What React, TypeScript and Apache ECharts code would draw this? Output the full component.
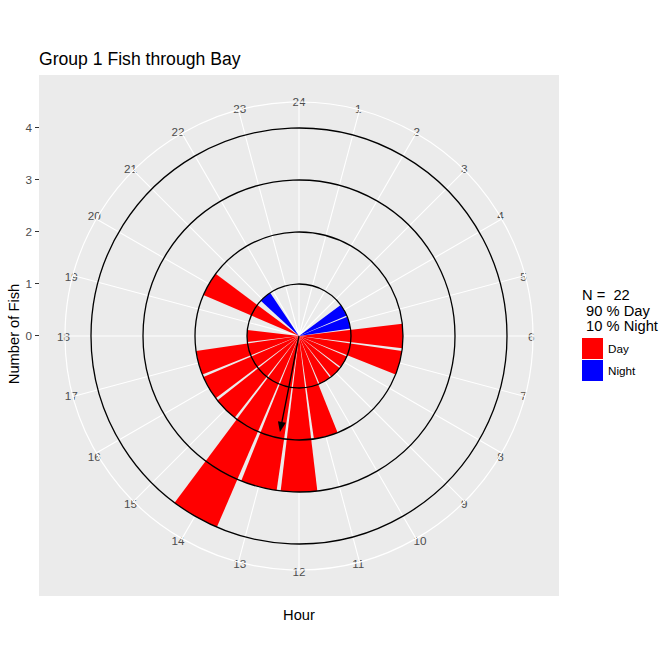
import React, { useEffect, useRef } from "react";
import * as echarts from "echarts";

// ---- data ----
const hourLabels = ["24", "1", "2", "3", "4", "5", "6", "7", "8", "9", "10", "11", "12", "13", "14", "15", "16", "17", "18", "19", "20", "21", "22", "23"];
const dayHours = [6, 7, 8, 9, 10, 11, 12, 13, 14, 15, 16, 17, 18, 20];
const dayCounts = [2, 2, 1, 1, 1, 2, 3, 3, 4, 2, 2, 2, 1, 2];
const nightHours = [4, 5, 21.3];
const nightCounts = [1, 1, 1];
const yTicks = [0, 1, 2, 3, 4];
const meanHour = [12.75];
const meanLength = [1.88];
const nFish = 22;
const pctDay = 90;
const pctNight = 10;
const seriesNames = ["Day", "Night"];

// ---- styles ----
const FONT = "'Liberation Sans', Arial, sans-serif";
const RED = "#FF0000";
const BLUE = "#0000FF";
const PANEL = "#EBEBEB";
const BAR_W = 0.9;

function sectorRender(color: string) {
  return (params: any, api: any) => {
    const h = api.value(0);
    const v = api.value(1);
    const c = api.coord([0, h]);
    const pa = api.coord([v, h - BAR_W / 2]);
    const pb = api.coord([v, h + BAR_W / 2]);
    const r = Math.hypot(pa[0] - c[0], pa[1] - c[1]);
    const a1 = Math.atan2(pa[1] - c[1], pa[0] - c[0]);
    let a2 = Math.atan2(pb[1] - c[1], pb[0] - c[0]);
    if (a2 < a1) a2 += Math.PI * 2;
    return {
      type: "sector",
      shape: { cx: c[0], cy: c[1], r0: 0, r, startAngle: a1, endAngle: a2, clockwise: true },
      style: { fill: color },
    };
  };
}

function arrowRender(params: any, api: any) {
  const h = api.value(0);
  const len = api.value(1);
  const c = api.coord([0, h]);
  const t = api.coord([len, h]);
  const dx = t[0] - c[0];
  const dy = t[1] - c[1];
  const L = Math.hypot(dx, dy) || 1;
  const ux = dx / L;
  const uy = dy / L;
  const headL = 10;
  const headW = 4;
  const bx = t[0] - ux * headL;
  const by = t[1] - uy * headL;
  return {
    type: "group",
    children: [
      { type: "line", shape: { x1: c[0], y1: c[1], x2: bx, y2: by }, style: { stroke: "#000", lineWidth: 1.3 } },
      {
        type: "polygon",
        shape: { points: [[t[0], t[1]], [bx - uy * headW, by + ux * headW], [bx + uy * headW, by - ux * headW]] },
        style: { fill: "#000" },
      },
    ],
  };
}

function txt(text: string, x: number, y: number, size: number, align = "left", rotation = 0) {
  return {
    type: "text",
    x,
    y,
    rotation,
    z: 10,
    style: {
      text,
      fill: "#000",
      fontSize: size,
      fontFamily: FONT,
      align,
      verticalAlign: "middle",
      textAlign: align,
      textVerticalAlign: "middle",
    },
  };
}

export default function App() {
  const ref = useRef<HTMLDivElement>(null);
  useEffect(() => {
    const chart = echarts.init(ref.current!, null, { renderer: "svg" });
    const option: any = {
      animation: false,
      backgroundColor: "#FFFFFF",
      textStyle: { fontFamily: FONT },
      grid: { left: 39, top: 75, width: 520, height: 521, show: true, backgroundColor: PANEL, borderWidth: 0, z: 0 },
      xAxis: { type: "value", show: false, min: 0, max: 1 },
      yAxis: {
        type: "value",
        min: -5,
        max: 5,
        interval: 1,
        axisLine: { show: false },
        splitLine: { show: false },
        axisTick: { show: true, customValues: yTicks, length: 4, lineStyle: { color: "#333333", width: 1 } },
        axisLabel: { show: true, customValues: yTicks, color: "#4D4D4D", fontSize: 11.7, margin: 7, fontFamily: FONT },
      },
      polar: { center: [299, 336], radius: 234 },
      angleAxis: {
        type: "value",
        min: 0,
        max: 24,
        interval: 1,
        startAngle: 90,
        clockwise: true,
        z: 1,
        axisLine: { show: true, lineStyle: { color: "#FFFFFF", width: 1.2 } },
        axisTick: { show: false },
        axisLabel: {
          show: true,
          margin: -5,
          color: "#4D4D4D",
          fontSize: 11.7,
          fontFamily: FONT,
          formatter: (v: number) => (v >= 24 ? "" : hourLabels[Math.round(v)]),
        },
        splitLine: { show: true, lineStyle: { color: "#FFFFFF", width: 1.1 } },
      },
      radiusAxis: {
        type: "value",
        min: 0,
        max: 4.5,
        interval: 1,
        z: 3,
        axisLine: { show: false },
        axisTick: { show: false },
        axisLabel: { show: false },
        splitLine: {
          show: true,
          lineStyle: { color: ["#000000", "#000000", "#000000", "#000000", "#000000", "rgba(0,0,0,0)"], width: 1.3 },
        },
      },
      legend: {
        orient: "vertical",
        left: 582,
        top: 338,
        itemWidth: 21,
        itemHeight: 21,
        itemGap: 1,
        padding: 0,
        icon: "rect",
        textStyle: { fontSize: 11.7, color: "#000", fontFamily: FONT },
        data: [
          { name: seriesNames[0], itemStyle: { color: RED } },
          { name: seriesNames[1], itemStyle: { color: BLUE } },
        ],
      },
      series: [
        {
          name: seriesNames[0],
          type: "custom",
          coordinateSystem: "polar",
          z: 2,
          itemStyle: { color: RED },
          encode: { angle: 0, radius: 1 },
          data: dayHours.map((h, i) => [h, dayCounts[i]]),
          renderItem: sectorRender(RED),
        },
        {
          name: seriesNames[1],
          type: "custom",
          coordinateSystem: "polar",
          z: 2,
          itemStyle: { color: BLUE },
          encode: { angle: 0, radius: 1 },
          data: nightHours.map((h, i) => [h, nightCounts[i]]),
          renderItem: sectorRender(BLUE),
        },
        {
          name: "Mean",
          type: "custom",
          coordinateSystem: "polar",
          z: 5,
          encode: { angle: 0, radius: 1 },
          data: meanHour.map((h, i) => [h, meanLength[i]]),
          renderItem: arrowRender,
        },
      ],
      graphic: [
        txt("Group 1 Fish through Bay", 39, 59, 17.6),
        txt("Hour", 299, 615, 14.7, "center"),
        txt("Number of Fish", 14, 334, 14.7, "center", Math.PI / 2),
        txt("N =  " + nFish, 582, 295, 14.7),
        txt(" " + pctDay + " % Day", 582, 310.5, 14.7),
        txt(" " + pctNight + " % Night", 582, 326, 14.7),
      ],
    };
    chart.setOption(option);
    return () => chart.dispose();
  }, []);
  return <div ref={ref} style={{ position: "fixed", left: 0, top: 0, width: 672, height: 672 }} />;
}
